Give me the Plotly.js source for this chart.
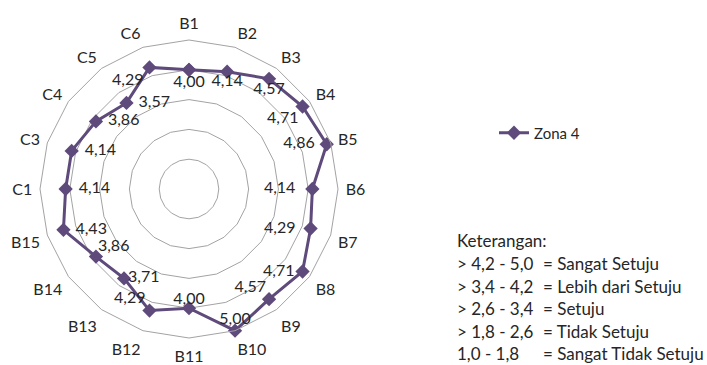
<!DOCTYPE html>
<html>
<head>
<meta charset="utf-8">
<script src="https://cdn.plot.ly/plotly-3.0.1.min.js"></script>
<style>
  html, body { margin: 0; padding: 0; background: #fff; }
  #chart { width: 707px; height: 365px; }
</style>
</head>
<body>
<div id="chart"></div>
<script>
// Survey items around the radar, clockwise from the top
const categories = ['B1', 'B2', 'B3', 'B4', 'B5', 'B6', 'B7', 'B8', 'B9', 'B10',
                    'B11', 'B12', 'B13', 'B14', 'B15', 'C1', 'C3', 'C4', 'C5', 'C6'];
// Mean score per item, Zona 4
const zona4 = [4.00, 4.14, 4.57, 4.71, 4.86, 4.14, 4.29, 4.71, 4.57, 5.00,
               4.00, 4.29, 3.71, 3.86, 4.43, 4.14, 4.14, 3.86, 3.57, 4.29];
const seriesName = 'Zona 4';

// Score scale legend
const keyTitle = 'Keterangan:';
const keyRanges = ['> 4,2 - 5,0', '> 3,4 - 4,2', '> 2,6 - 3,4', '> 1,8 - 2,6', '1,0 - 1,8'];
const keyMeanings = ['= Sangat Setuju', '= Lebih dari Setuju', '= Setuju', '= Tidak Setuju', '= Sangat Tidak Setuju'];

const W = 707, H = 365;
const FONT = 'Lato, "Open Sans", sans-serif';
const TEXT = '#262626';
const PURPLE = '#5f4a7c';
const GRID = '#a3a3a3';

// Where each value label sits around its marker, and how far away (invisible marker size)
const labelPos = ['bottom center', 'bottom center', 'bottom center', 'bottom left', 'middle left',
                  'middle left', 'middle left', 'middle left', 'top left', 'top center',
                  'top center', 'top left', 'middle right', 'top right', 'middle right',
                  'middle right', 'middle right', 'middle right', 'middle right', 'bottom left'];
const labelGap = [7.2, 2.4, 4, 4.8, 17.6, 25.6, 22.4, 11.2, 3.2, 2.4,
                  0, 4.8, 4.8, 1.6, 17.6, 19.2, 19.2, 17.6, 17.6, 8];

const fmt = v => v.toFixed(2).replace('.', ',');

// Close the outline back to the first item
const rClosed = zona4.concat([zona4[0]]);
const thetaClosed = categories.concat([categories[0]]);

const traces = [
  {
    type: 'scatterpolar',
    name: seriesName,
    r: rClosed,
    theta: thetaClosed,
    mode: 'lines+markers',
    line: { color: PURPLE, width: 3 },
    marker: { symbol: 'diamond', size: 11, color: PURPLE },
    hoverinfo: 'skip'
  },
  {
    type: 'scatterpolar',
    name: 'labels',
    r: zona4,
    theta: categories,
    mode: 'markers+text',
    text: zona4.map(fmt),
    textposition: labelPos,
    textfont: { family: FONT, size: 16, color: TEXT },
    marker: { size: labelGap, opacity: 0, color: PURPLE },
    showlegend: false,
    hoverinfo: 'skip'
  }
];

// Centre (189, 189) px, outer ring radius 149 px
const cx = 189, cy = 189, R = 149;

const annotations = [];
const lineY = [241, 263.5, 286, 308.5, 331, 353.5];
annotations.push({
  xref: 'paper', yref: 'paper', x: 455 / W, y: 1 - lineY[0] / H,
  xanchor: 'left', yanchor: 'middle', showarrow: false,
  text: keyTitle, font: { family: FONT, size: 17, color: TEXT }
});
keyRanges.forEach((t, i) => {
  annotations.push({
    xref: 'paper', yref: 'paper', x: 455 / W, y: 1 - lineY[i + 1] / H,
    xanchor: 'left', yanchor: 'middle', showarrow: false,
    text: t, font: { family: FONT, size: 17, color: TEXT }
  });
  annotations.push({
    xref: 'paper', yref: 'paper', x: 541 / W, y: 1 - lineY[i + 1] / H,
    xanchor: 'left', yanchor: 'middle', showarrow: false,
    text: keyMeanings[i], font: { family: FONT, size: 17, color: TEXT }
  });
});

const layout = {
  width: W, height: H,
  margin: { l: 0, r: 0, t: 0, b: 0, pad: 0 },
  paper_bgcolor: '#ffffff',
  font: { family: FONT, color: TEXT },
  showlegend: true,
  legend: {
    x: 494 / W, y: 1 - 133 / H, xanchor: 'left', yanchor: 'middle',
    font: { family: FONT, size: 15, color: TEXT },
    bgcolor: 'rgba(0,0,0,0)'
  },
  polar: {
    domain: { x: [(cx - R) / W, (cx + R) / W], y: [1 - (cy + R) / H, 1 - (cy - R) / H] },
    bgcolor: 'rgba(0,0,0,0)',
    gridshape: 'linear',
    radialaxis: {
      range: [0, 5], tick0: 0, dtick: 1,
      showticklabels: false, ticks: '', showline: false,
      gridcolor: GRID, gridwidth: 1
    },
    angularaxis: {
      type: 'category', categoryarray: categories,
      direction: 'clockwise', rotation: 90,
      showgrid: false, showline: true, linecolor: GRID, linewidth: 1,
      ticks: 'outside', ticklen: 4, tickcolor: 'rgba(0,0,0,0)',
      tickfont: { family: FONT, size: 16, color: TEXT }
    }
  },
  annotations: annotations
};

Plotly.newPlot('chart', traces, layout, { staticPlot: true, displayModeBar: false });
</script>
</body>
</html>
